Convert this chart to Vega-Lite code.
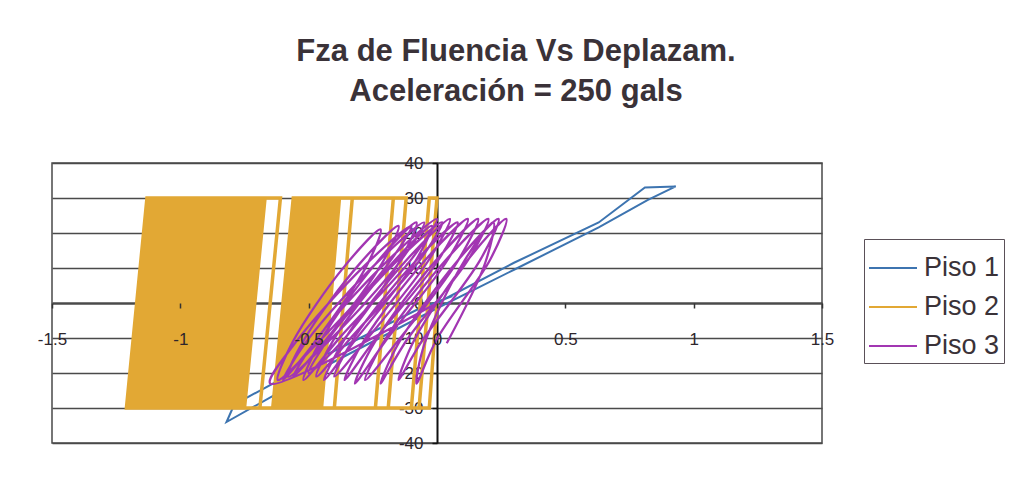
{
  "$schema": "https://vega.github.io/schema/vega-lite/v6.json",
  "width": 770,
  "height": 280,
  "autosize": {"type": "none"},
  "padding": {"left": 52, "top": 163, "right": 211, "bottom": 52},
  "background": "white",
  "title": {
    "text": ["Fza de Fluencia Vs Deplazam.", "Aceleración = 250 gals"],
    "font": "Liberation Sans",
    "fontSize": 31,
    "fontWeight": "bold",
    "color": "#3a3238",
    "lineHeight": 40,
    "anchor": "middle",
    "dx": 79,
    "offset": 46
  },
  "config": {
    "view": {"stroke": "#4a4a4a", "strokeWidth": 1.5},
    "font": "Liberation Sans"
  },
  "data": {
    "values": [
      {"piso": "Piso 1", "x": 0, "y": 0},
      {"piso": "Piso 1", "x": 0.3, "y": 11.5},
      {"piso": "Piso 1", "x": 0.63, "y": 23},
      {"piso": "Piso 1", "x": 0.81, "y": 33},
      {"piso": "Piso 1", "x": 0.93, "y": 33.3},
      {"piso": "Piso 1", "x": 0.82, "y": 29.4},
      {"piso": "Piso 1", "x": 0.63, "y": 21.6},
      {"piso": "Piso 1", "x": 0.3, "y": 9.5},
      {"piso": "Piso 1", "x": 0.0, "y": -1.5},
      {"piso": "Piso 1", "x": -0.42, "y": -17.5},
      {"piso": "Piso 1", "x": -0.82, "y": -34},
      {"piso": "Piso 1", "x": -0.79, "y": -29},
      {"piso": "Piso 1", "x": -0.45, "y": -15.5},
      {"piso": "Piso 1", "x": -0.08, "y": -2},
      {"piso": "Piso 1", "x": 0.06, "y": 2},

      {"piso": "Piso 2", "x": 0, "y": 0},
      {"piso": "Piso 2", "x": -0.03, "y": -30},
      {"piso": "Piso 2", "x": -0.1, "y": -30},
      {"piso": "Piso 2", "x": -0.03, "y": 30},
      {"piso": "Piso 2", "x": 0.0, "y": 30},
      {"piso": "Piso 2", "x": -0.07, "y": -30},
      {"piso": "Piso 2", "x": -0.4, "y": -30},
      {"piso": "Piso 2", "x": -0.33, "y": 30},
      {"piso": "Piso 2", "x": -0.12, "y": 30},
      {"piso": "Piso 2", "x": -0.19, "y": -30},
      {"piso": "Piso 2", "x": -0.45, "y": -30},
      {"piso": "Piso 2", "x": -0.38, "y": 30},
      {"piso": "Piso 2", "x": -0.17, "y": 30},
      {"piso": "Piso 2", "x": -0.24, "y": -30},

      {"piso": "Piso 2", "x": -0.64, "y": -30},
      {"piso": "Piso 2", "x": -0.56, "y": 30},
      {"piso": "Piso 2", "x": -0.38, "y": 30},
      {"piso": "Piso 2", "x": -0.45, "y": -30},
      {"piso": "Piso 2", "x": -0.628, "y": -30},
      {"piso": "Piso 2", "x": -0.548, "y": 30},
      {"piso": "Piso 2", "x": -0.391, "y": 30},
      {"piso": "Piso 2", "x": -0.461, "y": -30},
      {"piso": "Piso 2", "x": -0.616, "y": -30},
      {"piso": "Piso 2", "x": -0.536, "y": 30},
      {"piso": "Piso 2", "x": -0.402, "y": 30},
      {"piso": "Piso 2", "x": -0.472, "y": -30},
      {"piso": "Piso 2", "x": -0.604, "y": -30},
      {"piso": "Piso 2", "x": -0.524, "y": 30},
      {"piso": "Piso 2", "x": -0.413, "y": 30},
      {"piso": "Piso 2", "x": -0.483, "y": -30},
      {"piso": "Piso 2", "x": -0.592, "y": -30},
      {"piso": "Piso 2", "x": -0.512, "y": 30},
      {"piso": "Piso 2", "x": -0.424, "y": 30},
      {"piso": "Piso 2", "x": -0.494, "y": -30},
      {"piso": "Piso 2", "x": -0.58, "y": -30},
      {"piso": "Piso 2", "x": -0.5, "y": 30},
      {"piso": "Piso 2", "x": -0.435, "y": 30},
      {"piso": "Piso 2", "x": -0.505, "y": -30},
      {"piso": "Piso 2", "x": -0.568, "y": -30},
      {"piso": "Piso 2", "x": -0.488, "y": 30},
      {"piso": "Piso 2", "x": -0.446, "y": 30},
      {"piso": "Piso 2", "x": -0.516, "y": -30},
      {"piso": "Piso 2", "x": -0.556, "y": -30},
      {"piso": "Piso 2", "x": -0.476, "y": 30},
      {"piso": "Piso 2", "x": -0.457, "y": 30},
      {"piso": "Piso 2", "x": -0.527, "y": -30},
      {"piso": "Piso 2", "x": -0.544, "y": -30},
      {"piso": "Piso 2", "x": -0.464, "y": 30},
      {"piso": "Piso 2", "x": -0.468, "y": 30},
      {"piso": "Piso 2", "x": -0.538, "y": -30},

      {"piso": "Piso 2", "x": -1.21, "y": -30},
      {"piso": "Piso 2", "x": -1.13, "y": 30},
      {"piso": "Piso 2", "x": -0.61, "y": 30},
      {"piso": "Piso 2", "x": -0.69, "y": -30},

      {"piso": "Piso 2", "x": -1.21, "y": -30},
      {"piso": "Piso 2", "x": -1.13, "y": 30},
      {"piso": "Piso 2", "x": -0.67, "y": 30},
      {"piso": "Piso 2", "x": -0.75, "y": -30},
      {"piso": "Piso 2", "x": -1.09, "y": -30},
      {"piso": "Piso 2", "x": -1.01, "y": 30},
      {"piso": "Piso 2", "x": -0.78, "y": 30},
      {"piso": "Piso 2", "x": -0.86, "y": -30},
      {"piso": "Piso 2", "x": -1.15, "y": -30},
      {"piso": "Piso 2", "x": -1.07, "y": 30},
      {"piso": "Piso 2", "x": -0.725, "y": 30},
      {"piso": "Piso 2", "x": -0.805, "y": -30},
      {"piso": "Piso 2", "x": -1.03, "y": -30},
      {"piso": "Piso 2", "x": -0.95, "y": 30},
      {"piso": "Piso 2", "x": -0.835, "y": 30},
      {"piso": "Piso 2", "x": -0.915, "y": -30},
      {"piso": "Piso 2", "x": -1.186, "y": -30},
      {"piso": "Piso 2", "x": -1.106, "y": 30},
      {"piso": "Piso 2", "x": -0.692, "y": 30},
      {"piso": "Piso 2", "x": -0.772, "y": -30},
      {"piso": "Piso 2", "x": -1.066, "y": -30},
      {"piso": "Piso 2", "x": -0.986, "y": 30},
      {"piso": "Piso 2", "x": -0.802, "y": 30},
      {"piso": "Piso 2", "x": -0.882, "y": -30},
      {"piso": "Piso 2", "x": -1.126, "y": -30},
      {"piso": "Piso 2", "x": -1.046, "y": 30},
      {"piso": "Piso 2", "x": -0.747, "y": 30},
      {"piso": "Piso 2", "x": -0.827, "y": -30},
      {"piso": "Piso 2", "x": -1.006, "y": -30},
      {"piso": "Piso 2", "x": -0.926, "y": 30},
      {"piso": "Piso 2", "x": -0.857, "y": 30},
      {"piso": "Piso 2", "x": -0.937, "y": -30},
      {"piso": "Piso 2", "x": -1.198, "y": -30},
      {"piso": "Piso 2", "x": -1.118, "y": 30},
      {"piso": "Piso 2", "x": -0.681, "y": 30},
      {"piso": "Piso 2", "x": -0.761, "y": -30},
      {"piso": "Piso 2", "x": -1.078, "y": -30},
      {"piso": "Piso 2", "x": -0.998, "y": 30},
      {"piso": "Piso 2", "x": -0.791, "y": 30},
      {"piso": "Piso 2", "x": -0.871, "y": -30},
      {"piso": "Piso 2", "x": -1.138, "y": -30},
      {"piso": "Piso 2", "x": -1.058, "y": 30},
      {"piso": "Piso 2", "x": -0.736, "y": 30},
      {"piso": "Piso 2", "x": -0.816, "y": -30},
      {"piso": "Piso 2", "x": -1.018, "y": -30},
      {"piso": "Piso 2", "x": -0.938, "y": 30},
      {"piso": "Piso 2", "x": -0.846, "y": 30},
      {"piso": "Piso 2", "x": -0.926, "y": -30},
      {"piso": "Piso 2", "x": -1.174, "y": -30},
      {"piso": "Piso 2", "x": -1.094, "y": 30},
      {"piso": "Piso 2", "x": -0.703, "y": 30},
      {"piso": "Piso 2", "x": -0.783, "y": -30},
      {"piso": "Piso 2", "x": -1.054, "y": -30},
      {"piso": "Piso 2", "x": -0.974, "y": 30},
      {"piso": "Piso 2", "x": -0.813, "y": 30},
      {"piso": "Piso 2", "x": -0.893, "y": -30},
      {"piso": "Piso 2", "x": -1.114, "y": -30},
      {"piso": "Piso 2", "x": -1.034, "y": 30},
      {"piso": "Piso 2", "x": -0.758, "y": 30},
      {"piso": "Piso 2", "x": -0.838, "y": -30},
      {"piso": "Piso 2", "x": -0.994, "y": -30},
      {"piso": "Piso 2", "x": -0.914, "y": 30},
      {"piso": "Piso 2", "x": -0.868, "y": 30},
      {"piso": "Piso 2", "x": -0.948, "y": -30},
      {"piso": "Piso 2", "x": -1.162, "y": -30},
      {"piso": "Piso 2", "x": -1.082, "y": 30},
      {"piso": "Piso 2", "x": -0.714, "y": 30},
      {"piso": "Piso 2", "x": -0.794, "y": -30},
      {"piso": "Piso 2", "x": -1.042, "y": -30},
      {"piso": "Piso 2", "x": -0.962, "y": 30},
      {"piso": "Piso 2", "x": -0.824, "y": 30},
      {"piso": "Piso 2", "x": -0.904, "y": -30},
      {"piso": "Piso 2", "x": -1.102, "y": -30},
      {"piso": "Piso 2", "x": -1.022, "y": 30},
      {"piso": "Piso 2", "x": -0.769, "y": 30},
      {"piso": "Piso 2", "x": -0.849, "y": -30},
      {"piso": "Piso 2", "x": -0.982, "y": -30},
      {"piso": "Piso 2", "x": -0.902, "y": 30},
      {"piso": "Piso 2", "x": -0.879, "y": 30},
      {"piso": "Piso 2", "x": -0.959, "y": -30},
      {"piso": "Piso 2", "x": -0.97, "y": -30},
      {"piso": "Piso 2", "x": -0.89, "y": 30},

      {"piso": "Piso 3", "x": 0, "y": 0},
      {"piso": "Piso 3", "x": -0.65, "y": -23},
      {"piso": "Piso 3", "x": -0.556, "y": -11.75},
      {"piso": "Piso 3", "x": -0.281, "y": 10.75},
      {"piso": "Piso 3", "x": -0.1, "y": 22},
      {"piso": "Piso 3", "x": -0.195, "y": 10.75},
      {"piso": "Piso 3", "x": -0.47, "y": -11.75},
      {"piso": "Piso 3", "x": -0.62, "y": -22},
      {"piso": "Piso 3", "x": -0.563, "y": -11.25},
      {"piso": "Piso 3", "x": -0.363, "y": 10.25},
      {"piso": "Piso 3", "x": -0.22, "y": 21},
      {"piso": "Piso 3", "x": -0.277, "y": 10.25},
      {"piso": "Piso 3", "x": -0.477, "y": -11.25},
      {"piso": "Piso 3", "x": -0.6, "y": -22},
      {"piso": "Piso 3", "x": -0.506, "y": -10.75},
      {"piso": "Piso 3", "x": -0.231, "y": 11.75},
      {"piso": "Piso 3", "x": -0.05, "y": 23},
      {"piso": "Piso 3", "x": -0.145, "y": 11.75},
      {"piso": "Piso 3", "x": -0.42, "y": -10.75},
      {"piso": "Piso 3", "x": -0.58, "y": -21},
      {"piso": "Piso 3", "x": -0.516, "y": -10.25},
      {"piso": "Piso 3", "x": -0.301, "y": 11.25},
      {"piso": "Piso 3", "x": -0.15, "y": 22},
      {"piso": "Piso 3", "x": -0.215, "y": 11.25},
      {"piso": "Piso 3", "x": -0.43, "y": -10.25},
      {"piso": "Piso 3", "x": -0.56, "y": -21},
      {"piso": "Piso 3", "x": -0.463, "y": -9.75},
      {"piso": "Piso 3", "x": -0.183, "y": 12.75},
      {"piso": "Piso 3", "x": 0.0, "y": 24},
      {"piso": "Piso 3", "x": -0.097, "y": 12.75},
      {"piso": "Piso 3", "x": -0.377, "y": -9.75},
      {"piso": "Piso 3", "x": -0.52, "y": -22},
      {"piso": "Piso 3", "x": -0.453, "y": -10.75},
      {"piso": "Piso 3", "x": -0.233, "y": 11.75},
      {"piso": "Piso 3", "x": -0.08, "y": 23},
      {"piso": "Piso 3", "x": -0.147, "y": 11.75},
      {"piso": "Piso 3", "x": -0.367, "y": -10.75},
      {"piso": "Piso 3", "x": -0.5, "y": -20},
      {"piso": "Piso 3", "x": -0.413, "y": -9.25},
      {"piso": "Piso 3", "x": -0.153, "y": 12.25},
      {"piso": "Piso 3", "x": 0.02, "y": 23},
      {"piso": "Piso 3", "x": -0.067, "y": 12.25},
      {"piso": "Piso 3", "x": -0.327, "y": -9.25},
      {"piso": "Piso 3", "x": -0.47, "y": -21},
      {"piso": "Piso 3", "x": -0.401, "y": -10.25},
      {"piso": "Piso 3", "x": -0.176, "y": 11.25},
      {"piso": "Piso 3", "x": -0.02, "y": 22},
      {"piso": "Piso 3", "x": -0.09, "y": 11.25},
      {"piso": "Piso 3", "x": -0.315, "y": -10.25},
      {"piso": "Piso 3", "x": -0.44, "y": -22},
      {"piso": "Piso 3", "x": -0.361, "y": -10.5},
      {"piso": "Piso 3", "x": -0.116, "y": 12.5},
      {"piso": "Piso 3", "x": 0.05, "y": 24},
      {"piso": "Piso 3", "x": -0.03, "y": 12.5},
      {"piso": "Piso 3", "x": -0.275, "y": -10.5},
      {"piso": "Piso 3", "x": -0.4, "y": -21},
      {"piso": "Piso 3", "x": -0.323, "y": -10},
      {"piso": "Piso 3", "x": -0.083, "y": 12},
      {"piso": "Piso 3", "x": 0.08, "y": 23},
      {"piso": "Piso 3", "x": 0.003, "y": 12},
      {"piso": "Piso 3", "x": -0.237, "y": -10},
      {"piso": "Piso 3", "x": -0.36, "y": -22},
      {"piso": "Piso 3", "x": -0.283, "y": -10.5},
      {"piso": "Piso 3", "x": -0.043, "y": 12.5},
      {"piso": "Piso 3", "x": 0.12, "y": 24},
      {"piso": "Piso 3", "x": 0.043, "y": 12.5},
      {"piso": "Piso 3", "x": -0.197, "y": -10.5},
      {"piso": "Piso 3", "x": -0.32, "y": -23},
      {"piso": "Piso 3", "x": -0.243, "y": -11.25},
      {"piso": "Piso 3", "x": -0.003, "y": 12.25},
      {"piso": "Piso 3", "x": 0.16, "y": 24},
      {"piso": "Piso 3", "x": 0.083, "y": 12.25},
      {"piso": "Piso 3", "x": -0.157, "y": -11.25},
      {"piso": "Piso 3", "x": -0.28, "y": -22},
      {"piso": "Piso 3", "x": -0.203, "y": -10.5},
      {"piso": "Piso 3", "x": 0.037, "y": 12.5},
      {"piso": "Piso 3", "x": 0.2, "y": 24},
      {"piso": "Piso 3", "x": 0.123, "y": 12.5},
      {"piso": "Piso 3", "x": -0.117, "y": -10.5},
      {"piso": "Piso 3", "x": -0.22, "y": -23},
      {"piso": "Piso 3", "x": -0.148, "y": -11.25},
      {"piso": "Piso 3", "x": 0.082, "y": 12.25},
      {"piso": "Piso 3", "x": 0.24, "y": 24},
      {"piso": "Piso 3", "x": 0.168, "y": 12.25},
      {"piso": "Piso 3", "x": -0.062, "y": -11.25},
      {"piso": "Piso 3", "x": -0.15, "y": -22},
      {"piso": "Piso 3", "x": -0.088, "y": -10.5},
      {"piso": "Piso 3", "x": 0.122, "y": 12.5},
      {"piso": "Piso 3", "x": 0.27, "y": 24},
      {"piso": "Piso 3", "x": 0.208, "y": 12.5},
      {"piso": "Piso 3", "x": -0.002, "y": -10.5},
      {"piso": "Piso 3", "x": -0.08, "y": -23},
      {"piso": "Piso 3", "x": -0.048, "y": -11.5},
      {"piso": "Piso 3", "x": 0.102, "y": 11.5},
      {"piso": "Piso 3", "x": 0.22, "y": 23},
      {"piso": "Piso 3", "x": 0.188, "y": 11.5},
      {"piso": "Piso 3", "x": 0.038, "y": -11.5}
    ]
  },
  "encoding": {
    "x": {
      "field": "x",
      "type": "quantitative",
      "scale": {"domain": [-1.5, 1.5], "nice": false, "zero": false},
      "axis": {
        "title": null,
        "orient": "bottom",
        "offset": -140,
        "values": [-1.5, -1, -0.5, 0, 0.5, 1, 1.5],
        "labelExpr": "datum.value + ''",
        "domain": false,
        "grid": false,
        "ticks": true,
        "tickSize": 5,
        "tickColor": "#333333",
        "tickWidth": 1.5,
        "labelPadding": 23,
        "labelFontSize": 17,
        "labelColor": "#2e262c",
        "labelFont": "Liberation Sans",
        "labelOverlap": false,
        "labelFlush": false,
        "zindex": 1
      }
    },
    "y": {
      "field": "y",
      "type": "quantitative",
      "scale": {"domain": [-40, 40], "nice": false, "zero": false},
      "axis": {
        "title": null,
        "orient": "left",
        "offset": -385,
        "values": [-40, -30, -20, -10, 0, 10, 20, 30, 40],
        "labelExpr": "datum.value + ''",
        "domain": true,
        "domainColor": "#111111",
        "domainWidth": 2,
        "ticks": true,
        "tickSize": 5,
        "tickColor": "#111111",
        "tickWidth": 1.5,
        "labelPadding": 9,
        "labelFontSize": 17,
        "labelColor": "#2e262c",
        "labelFont": "Liberation Sans",
        "labelOverlap": false,
        "labelFlush": false,
        "grid": true,
        "gridColor": "#4a4a4a",
        "gridWidth": {"condition": {"test": "datum.value === 0", "value": 2.5}, "value": 1.5},
        "zindex": 0
      }
    },
    "color": {
      "field": "piso",
      "type": "nominal",
      "scale": {"domain": ["Piso 1", "Piso 2", "Piso 3"], "range": ["#3d74b0", "#e2a834", "#a236b2"]},
      "legend": {
        "title": null,
        "orient": "none",
        "legendX": 812,
        "legendY": 76,
        "symbolType": "stroke",
        "symbolSize": 2304,
        "symbolStrokeWidth": 1.8,
        "labelFontSize": 27,
        "labelFont": "Liberation Sans",
        "labelColor": "#3a3238",
        "labelOffset": 6,
        "rowPadding": 1,
        "padding": 4,
        "strokeColor": "#5a5058",
        "fillColor": "white"
      }
    },
    "order": {"value": null}
  },
  "layer": [
    {
      "transform": [{"filter": "datum.piso === 'Piso 1'"}],
      "mark": {"type": "line", "interpolate": "linear", "strokeWidth": 2, "clip": true}
    },
    {
      "transform": [{"filter": "datum.piso === 'Piso 2'"}],
      "mark": {"type": "line", "interpolate": "linear", "strokeWidth": 3.5, "clip": true}
    },
    {
      "transform": [{"filter": "datum.piso === 'Piso 3'"}],
      "mark": {"type": "line", "interpolate": "catmull-rom", "strokeWidth": 2.3, "clip": true}
    }
  ]
}
